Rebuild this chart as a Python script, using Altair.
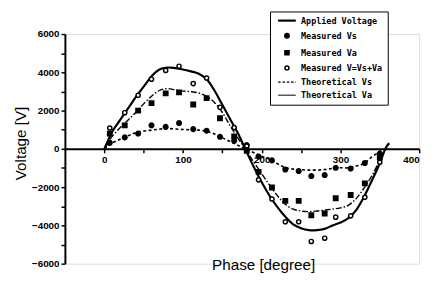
import altair as alt
import pandas as pd

# ---- theoretical / applied curves ----
phase_applied = [0, 5, 10, 20, 30, 40, 50, 60, 70, 80, 90, 100, 110, 120, 130, 140, 150, 160, 170, 179,
                 190, 200, 210, 220, 230, 240, 250, 260, 270, 280, 290, 300, 310, 320, 330, 340, 350, 357, 362]
applied_v = [0, 450, 900, 1500, 2100, 2700, 3250, 3800, 4150, 4250, 4220, 4150, 4050, 3930, 3650, 3050, 2300, 1550, 800, 0,
             -950, -1750, -2450, -3050, -3550, -3950, -4150, -4250, -4250, -4180, -4000, -3850, -3620, -3200, -2500, -1650, -750, 0, 300]

phase_theory = [0, 5, 10, 20, 30, 40, 50, 60, 70, 80, 90, 100, 110, 120, 130, 140, 150, 160, 170, 179,
                190, 200, 210, 220, 230, 240, 250, 260, 270, 280, 290, 300, 310, 320, 330, 340, 350, 357]
theo_va = [0, 300, 650, 1100, 1500, 1900, 2350, 2750, 3050, 3150, 3080, 3020, 2990, 2920, 2750, 2420, 1900, 1200, 550, 0,
           -700, -1300, -1900, -2450, -2900, -3150, -3250, -3280, -3250, -3200, -3150, -3080, -2950, -2600, -2050, -1400, -600, 0]
theo_vs = [0, 150, 300, 500, 680, 840, 930, 980, 1030, 1060, 1040, 1010, 1000, 980, 920, 780, 580, 380, 180, 0,
           -200, -380, -550, -780, -980, -1060, -1090, -1110, -1110, -1080, -1020, -990, -990, -900, -750, -420, -150, 0]

# ---- measured points ----
phase_meas = [7, 26, 43, 60, 78, 95, 113, 130, 147, 165, 181, 196, 213, 230, 247, 263, 280, 294, 313, 331, 350]
meas_vs = [320, 600, 800, 1230, 1150, 1350, 1030, 950, 630, 420, 200, -400, -600, -1080, -1160, -1420, -1370, -990, -1030, -740, -250]
meas_va = [800, 1230, 2000, 2390, 2900, 2950, 2320, 2650, 1600, 650, -100, -1200, -2020, -2720, -2720, -3470, -3380, -2580, -2410, -1800, -450]
meas_v = [1090, 1890, 2800, 3640, 4100, 4320, 3410, 3700, 2170, 1110, 150, -1620, -2620, -3810, -3810, -4840, -4670, -3570, -3500, -2530, -700]

series_labels = ["Applied Voltage", "Measured Vs", "Measured Va", "Measured V=Vs+Va",
                 "Theoretical Vs", "Theoretical Va"]

x_ticks = [0, 50, 100, 150, 200, 250, 300, 350, 400]
y_ticks = [-6000, -5000, -4000, -3000, -2000, -1000, 0, 1000, 2000, 3000, 4000, 5000, 6000]

applied_df = pd.DataFrame({"phase": phase_applied, "volt": applied_v})
va_df = pd.DataFrame({"phase": phase_theory, "volt": theo_va})
vs_df = pd.DataFrame({"phase": phase_theory, "volt": theo_vs})

meas_df = pd.concat([
    pd.DataFrame({"phase": phase_meas, "volt": meas_vs, "series": "Measured Vs"}),
    pd.DataFrame({"phase": phase_meas, "volt": meas_va, "series": "Measured Va"}),
    pd.DataFrame({"phase": phase_meas, "volt": meas_v, "series": "Measured V=Vs+Va"}),
], ignore_index=True)

xscale = alt.Scale(domain=[-50, 400], nice=False, zero=False)
yscale = alt.Scale(domain=[-6000, 6000], nice=False)

xaxis = alt.Axis(
    values=x_ticks,
    labelExpr="datum.value % 100 == 0 ? datum.label : ''",
    format="d", offset=-117, grid=False, tickSize=4, labelPadding=2, labelOverlap=False,
    domainWidth=2, tickWidth=1.5, domainColor="black", tickColor="black",
    title="Phase [degree]", titleX=202, titleY=111, titleFontSize=15.5,
    titleFontWeight="normal", titleFont="Liberation Sans", titleColor="black",
    labelFont="Liberation Sans", labelFontSize=10, labelFontWeight="bold", labelColor="black",
)
yaxis = alt.Axis(
    values=y_ticks,
    labelExpr="abs(datum.value) % 2000 == 0 ? datum.label : ''",
    format="d", grid=False, tickSize=4, labelPadding=2, labelOverlap=False,
    domainWidth=2, tickWidth=1.5, domainColor="black", tickColor="black",
    title="Voltage [V]", titleX=-37, titleY=111, titleFontSize=15.5,
    titleFontWeight="normal", titleFont="Liberation Sans", titleColor="black",
    labelFont="Liberation Sans", labelFontSize=10, labelFontWeight="bold", labelColor="black",
)

line_path = "M-4.5,0H4.5"
dash_path = "M-4.5,0H-3.2M-2.3,0H-1M-0.1,0H1.2M2.1,0H3.4M4.2,0H4.5"
shapes = [line_path, "circle", "square", "circle", dash_path, line_path]
fills = ["black", "black", "black", "white", "black", "black"]
strokes = ["black"] * 6
swidths = [2.2, 1, 1, 1, 1, 1]

legend = alt.Legend(
    title=None, orient="none", legendX=209, legendY=-23,
    padding=5, strokeColor="black", fillColor="white",
    labelFont="DejaVu Sans Mono", labelFontWeight="bold", labelFontSize=8.6,
    labelColor="black", symbolSize=16, rowPadding=4.4, labelOffset=10,
    symbolOffset=8,
)

X = alt.X("phase:Q", scale=xscale, axis=xaxis)
Y = alt.Y("volt:Q", scale=yscale, axis=yaxis)

base_line = alt.Chart(applied_df).mark_line(interpolate="cardinal", color="black", strokeWidth=2.2).encode(
    x=X, y=Y,
)
va_line = alt.Chart(va_df).mark_line(interpolate="cardinal", color="black", strokeWidth=1.4,
                                     strokeDash=[6, 2, 1.5, 2]).encode(
    x=X, y=Y,
)
vs_line = alt.Chart(vs_df).mark_line(interpolate="cardinal", color="black", strokeWidth=1.6,
                                     strokeDash=[3, 2.5]).encode(
    x=X, y=Y,
)
points = alt.Chart(meas_df).mark_point(size=18, opacity=1, filled=False).encode(
    x=X, y=Y,
    shape=alt.Shape("series:N", scale=alt.Scale(domain=series_labels, range=shapes), legend=legend),
    fill=alt.Fill("series:N", scale=alt.Scale(domain=series_labels, range=fills), legend=legend),
    stroke=alt.Stroke("series:N", scale=alt.Scale(domain=series_labels, range=strokes), legend=legend),
    strokeWidth=alt.StrokeWidth("series:N", scale=alt.Scale(domain=series_labels, range=swidths), legend=legend),
)

chart = alt.layer(base_line, va_line, vs_line, points).properties(
    width=361, height=234,
    autosize=alt.AutoSizeParams(type="none"),
    padding={"left": 58, "top": 24, "right": 8, "bottom": 9},
).configure_view(stroke=None).configure_axis(labelOverlap=False).configure(background="white")

chart.save("out.html", embed_options={"renderer": "svg", "actions": False})
